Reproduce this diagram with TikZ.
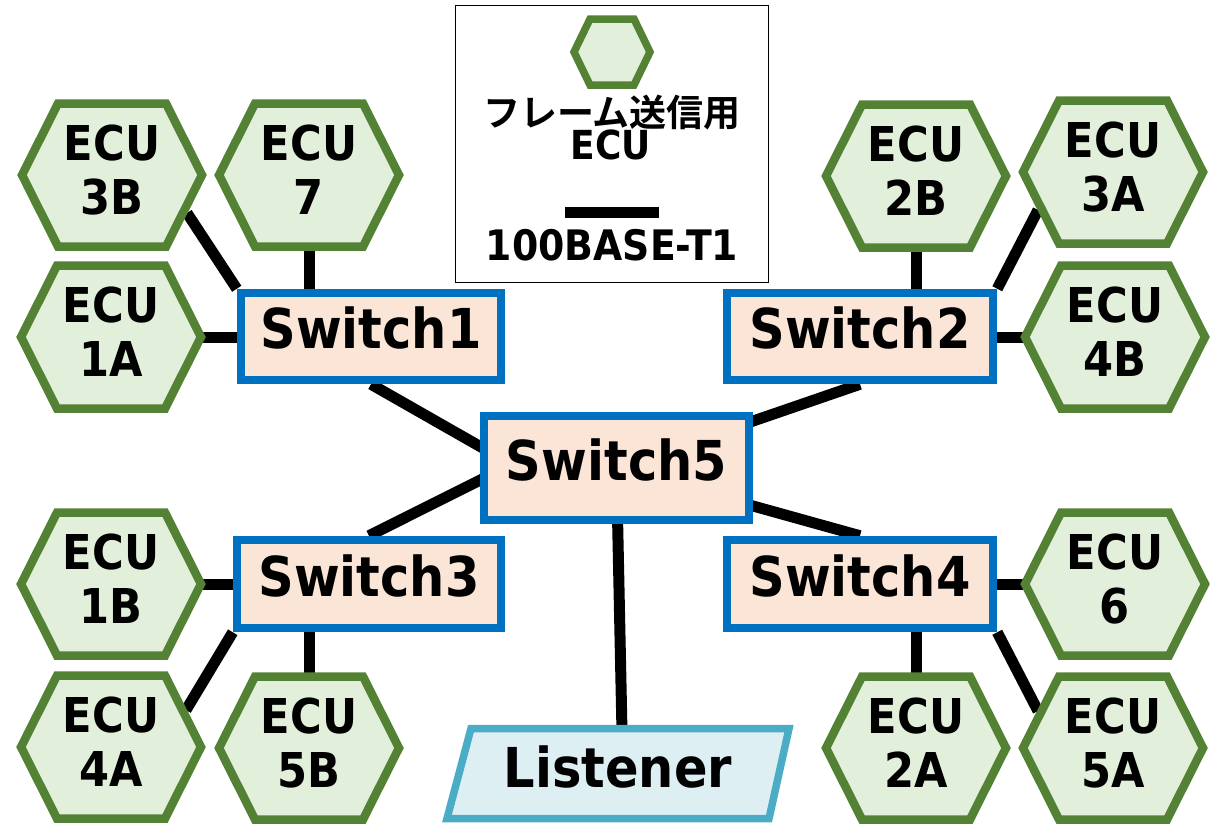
\documentclass[tikz,border=0pt]{standalone}
\usepackage{fontspec}
\setmainfont{DejaVu Sans}[FakeStretch=0.9]
\newfontfamily\jpfont{Noto Sans CJK JP}[BoldFont={* Bold}]
\usetikzlibrary{calc,backgrounds}
\definecolor{hexfill}{HTML}{E2EFDA}
\definecolor{hexline}{HTML}{548235}
\definecolor{swfill}{HTML}{FBE5D6}
\definecolor{swline}{HTML}{0070C0}
\definecolor{lisfill}{HTML}{DEEFF4}
\definecolor{lisline}{HTML}{4BACC6}
\tikzset{
  hexshape/.style={draw=hexline, fill=hexfill, line width=8.5pt, line join=miter},
  ecutext/.style={inner sep=0pt, align=center, font={\bfseries\fontsize{48}{54}\selectfont}},
  switchbox/.style={draw=swline, fill=swfill, line width=8.5pt, inner sep=0pt,
    text height=41pt, text depth=17pt, font={\bfseries\fontsize{55}{60}\selectfont}},
  link/.style={line width=11pt, draw=black},
  listenershape/.style={draw=lisline, fill=lisfill, line width=7.5pt, line join=miter},
}
\newcommand\ecuhex[4]{%
  \draw[hexshape] (#2-90,#3) -- (#2-54,#3-71.5) -- (#2+54,#3-71.5) -- (#2+90,#3)
     -- (#2+54,#3+71.5) -- (#2-54,#3+71.5) -- cycle;
  \coordinate (#1) at (#2,#3);
  \node[ecutext] (#1-t) at (#2,#3-5) {ECU\\#4};
}
\begin{document}
\begin{tikzpicture}[x=1pt,y=-1pt]
\useasboundingbox (0,0) rectangle (1221,823);

% legend
\node[draw=black, line width=1.5pt, minimum width=313pt, minimum height=277pt, inner sep=0pt] (legend) at (612,144) {};
\draw[hexshape, line width=7.5pt] (574,52) -- (590,19) -- (634,19) -- (650,52) -- (634,85) -- (590,85) -- cycle;
\node[anchor=base, inner sep=0pt, font={\jpfont\bfseries\fontsize{37}{40}\selectfont}] (legjp) at (612,126) {フレーム送信用};
\node[anchor=base, inner sep=0pt, font={\bfseries\fontsize{40}{40}\selectfont}] (legecu) at (611,159) {ECU};
\coordinate (legA) at (565,212);
\coordinate (legB) at (659,212);
\draw[link] (legA) -- (legB);
\node[anchor=base, inner sep=0pt, font={\bfseries\fontsize{42}{40}\selectfont}] (legbase) at (612,260) {100BASE-T1};

% switches
\node[switchbox, minimum width=260pt, minimum height=87pt] (sw1) at (371,336.5) {Switch1};
\node[switchbox, minimum width=266pt, minimum height=87pt] (sw2) at (860,336.5) {Switch2};
\node[switchbox, minimum width=264pt, minimum height=88pt] (sw3) at (369,584) {Switch3};
\node[switchbox, minimum width=266pt, minimum height=88pt] (sw4) at (860,584) {Switch4};
\node[switchbox, minimum width=265pt, minimum height=104pt] (sw5) at (616.5,468) {Switch5};

% ECUs
\ecuhex{e3b}{112}{175}{3B}
\ecuhex{e7}{309}{175}{7}
\ecuhex{e1a}{111}{337}{1A}
\ecuhex{e2b}{916}{176}{2B}
\ecuhex{e3a}{1113}{172}{3A}
\ecuhex{e4b}{1115}{337}{4B}
\ecuhex{e1b}{111}{584}{1B}
\ecuhex{e4a}{111}{747}{4A}
\ecuhex{e5b}{309}{748}{5B}
\ecuhex{e6}{1115}{584}{6}
\ecuhex{e2a}{916}{748}{2A}
\ecuhex{e5a}{1113}{748}{5A}

% listener
\draw[listenershape] (471,728.5) -- (789,728.5) -- (769,818.5) -- (447,818.5) -- cycle;
\node[inner sep=0pt, font={\bfseries\fontsize{55}{60}\selectfont}] (lis) at (618,767) {Listener};
\coordinate (listop) at (622,732);

% connectors
\begin{pgfonlayer}{background}
\draw[link] ($(e3b)+(75,38)$) -- (sw1.north west);
\draw[link] (e7) -- (e7 |- sw1.north);
\draw[link] (e1a) -- (e1a -| sw1.west);
\draw[link] (sw1.south) -- ($(sw1.south)!0.85!(sw5.south)$);
\draw[link] (e2b) -- (e2b |- sw2.north);
\draw[link] ($(e3a)+(-75,38)$) -- (sw2.north east);
\draw[link] (e4b) -- (e4b -| sw2.east);
\draw[link] (sw2.south) -- (sw5.center);
\draw[link] (e1b) -- (e1b -| sw3.west);
\draw[link] ($(e4a)+(75,-37)$) -- (sw3.south west);
\draw[link] (e5b) -- (e5b |- sw3.south);
\draw[link] (sw3.north) -- ($(sw3.north)!0.85!(sw5.north)$);
\draw[link] (e6) -- (e6 -| sw4.east);
\draw[link] (e2a) -- (e2a |- sw4.south);
\draw[link] ($(e5a)+(-75,-37)$) -- (sw4.south east);
\draw[link] (sw4.north) -- (sw5.center);
\draw[link] (sw5.center) -- (listop);
\end{pgfonlayer}
\end{tikzpicture}
\end{document}
